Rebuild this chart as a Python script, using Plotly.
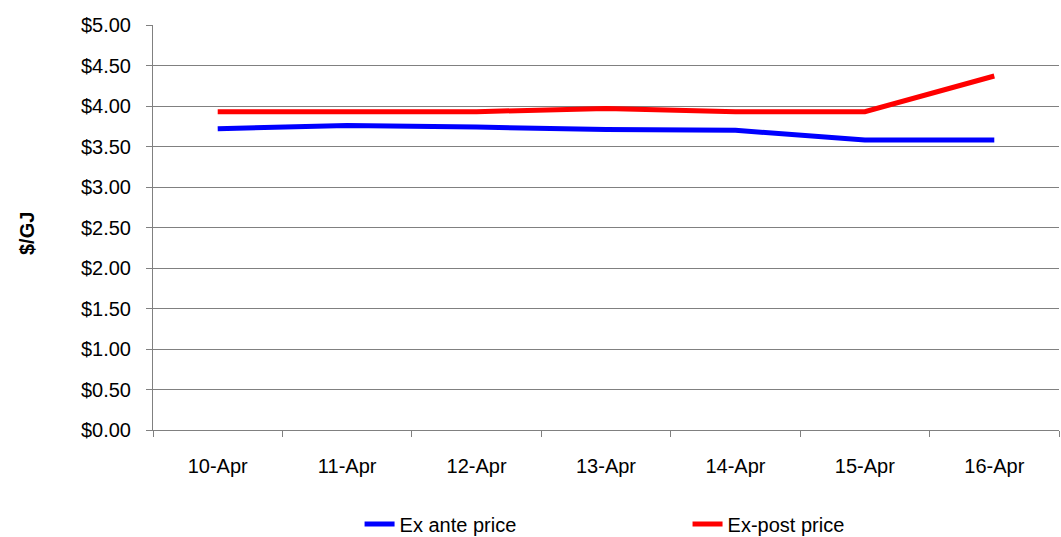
import plotly.graph_objects as go

dates = ["10-Apr", "11-Apr", "12-Apr", "13-Apr", "14-Apr", "15-Apr", "16-Apr"]
ex_ante = [3.72, 3.76, 3.74, 3.71, 3.70, 3.58, 3.58]
ex_post = [3.93, 3.93, 3.93, 3.97, 3.93, 3.93, 4.37]
y_ticks = [0, 0.5, 1, 1.5, 2, 2.5, 3, 3.5, 4, 4.5, 5]

fig = go.Figure()
fig.add_trace(go.Scatter(x=dates, y=ex_ante, mode="lines", name="Ex ante price",
                         line=dict(color="#0000FF", width=5), legend="legend"))
fig.add_trace(go.Scatter(x=dates, y=ex_post, mode="lines", name="Ex-post price",
                         line=dict(color="#FF0000", width=5), legend="legend2"))

leg_common = dict(orientation="h", yref="container", yanchor="middle", y=0.024,
                  xanchor="left", font=dict(size=20, color="black"),
                  bgcolor="rgba(0,0,0,0)")

fig.update_layout(
    width=1061, height=537, autosize=False,
    margin=dict(l=153, r=2, t=25, b=107),
    plot_bgcolor="white", paper_bgcolor="white",
    font=dict(family="Liberation Sans, Arial", size=20, color="black"),
    showlegend=True,
    legend=dict(x=0.228, **leg_common),
    legend2=dict(x=0.59, **leg_common),
    xaxis=dict(type="category", showline=True, linecolor="#808080", linewidth=1,
               ticks="outside", tickson="boundaries", ticklen=6, tickcolor="#808080",
               showgrid=False, range=[-0.5, 6.5], automargin=False,
               tickfont=dict(size=20), ticklabelstandoff=18),
    yaxis=dict(range=[0, 5], tickvals=y_ticks,
               ticktext=["$%.2f" % v for v in y_ticks],
               showline=True, linecolor="#808080", linewidth=1,
               ticks="outside", ticklen=6, tickcolor="#808080",
               showgrid=True, gridcolor="#808080", gridwidth=1,
               automargin=False, tickfont=dict(size=20), ticklabelstandoff=11),
    annotations=[dict(text="<b>$/GJ</b>", textangle=-90, xref="paper", yref="paper",
                      x=-0.139, y=0.484, xanchor="center", yanchor="middle",
                      showarrow=False, font=dict(size=20, color="black"))],
)

post = ("document.body.style.margin='0';"
        "document.body.style.overflow='hidden';")

fig.write_html("out.html", config={"displayModeBar": False, "responsive": False},
               post_script=post)
